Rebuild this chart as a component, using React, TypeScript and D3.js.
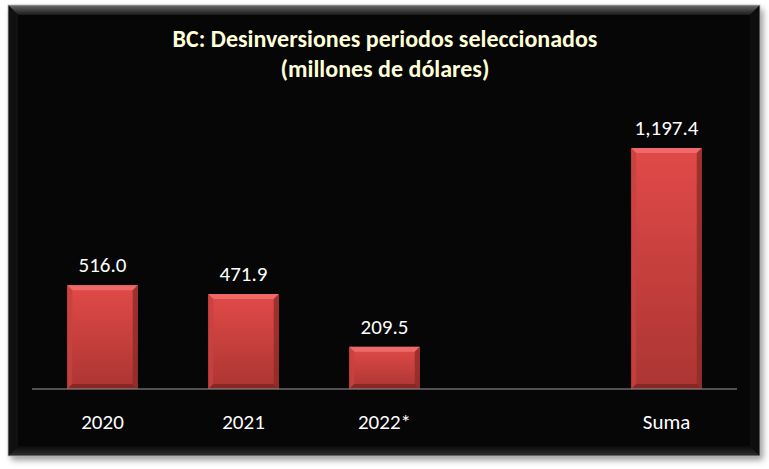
import React from "react";
import * as d3 from "d3";

const categories = ["2020", "2021", "2022*", "", "Suma"];
const values: (number | null)[] = [516.0, 471.9, 209.5, null, 1197.4];
const labels = ["516.0", "471.9", "209.5", "", "1,197.4"];
const titleLines = ["BC: Desinversiones periodos seleccionados", "(millones de dólares)"];

const W = 769;
const H = 469;
const panel = { x: 8, y: 5, w: 752, h: 451 };
const plot = { left: 32, right: 737, bottom: 389 };
const font = "Calibri, Carlito, 'Liberation Sans', sans-serif";

export default function App() {
  const x = d3
    .scaleBand<string>()
    .domain(categories.map((c, i) => i + ""))
    .range([plot.left, plot.right])
    .paddingInner(0.5)
    .paddingOuter(0.25);
  const y = d3.scaleLinear().domain([0, 1400]).range([plot.bottom, plot.bottom - 1400 * 0.2013]);
  const bw = x.bandwidth();
  const b = 5;

  return (
    <svg width={W} height={H} style={{ position: "absolute", left: 0, top: 0, background: "#fff" }}>
      <defs>
        <linearGradient id="barg" x1="0" y1="0" x2="0" y2="1">
          <stop offset="0" stopColor="#e14a48" />
          <stop offset="1" stopColor="#ab3533" />
        </linearGradient>
        <linearGradient id="topEdge" x1="0" y1="0" x2="0" y2="1">
          <stop offset="0" stopColor="#6a6a6a" />
          <stop offset="1" stopColor="#1a1a1a" />
        </linearGradient>
        <linearGradient id="botEdge" x1="0" y1="0" x2="0" y2="1">
          <stop offset="0" stopColor="#0a0a0a" />
          <stop offset="1" stopColor="#2e2e2e" />
        </linearGradient>
        <filter id="shadow" x="-5%" y="-5%" width="110%" height="110%">
          <feGaussianBlur stdDeviation="3" />
        </filter>
      </defs>
      {/* panel shadow */}
      <rect x={panel.x + 3} y={panel.y + 4} width={panel.w} height={panel.h} fill="#999" filter="url(#shadow)" />
      <rect x={panel.x} y={panel.y} width={panel.w} height={panel.h} fill="#060606" />
      {/* panel bevel */}
      <polygon
        points={`${panel.x},${panel.y} ${panel.x + panel.w},${panel.y} ${panel.x + panel.w - 10},${panel.y + 10} ${panel.x + 10},${panel.y + 10}`}
        fill="url(#topEdge)"
      />
      <polygon
        points={`${panel.x},${panel.y + panel.h} ${panel.x + panel.w},${panel.y + panel.h} ${panel.x + panel.w - 10},${panel.y + panel.h - 10} ${panel.x + 10},${panel.y + panel.h - 10}`}
        fill="url(#botEdge)"
      />
      <polygon
        points={`${panel.x},${panel.y} ${panel.x + 10},${panel.y + 10} ${panel.x + 10},${panel.y + panel.h - 10} ${panel.x},${panel.y + panel.h}`}
        fill="#111"
      />
      <polygon
        points={`${panel.x + panel.w},${panel.y} ${panel.x + panel.w - 10},${panel.y + 10} ${panel.x + panel.w - 10},${panel.y + panel.h - 10} ${panel.x + panel.w},${panel.y + panel.h}`}
        fill="#0e0e0e"
      />
      <rect x={panel.x + 10} y={panel.y + 10} width={panel.w - 20} height={panel.h - 20} fill="#060606" />
      <rect x={panel.x} y={panel.y} width={panel.w} height={panel.h} fill="none" stroke="#bbb" strokeWidth={0.8} />

      {/* title */}
      {titleLines.map((t, i) => (
        <text
          key={i}
          x={385}
          y={47 + i * 30}
          textAnchor="middle"
          fill="#ffffd8"
          fontFamily={font}
          fontWeight="bold"
          fontSize={24}
        >
          {t}
        </text>
      ))}

      {/* bars */}
      {values.map((v, i) => {
        if (v == null) return null;
        const x0 = x(i + "")!;
        const y0 = y(v);
        const y1 = y(0);
        const x1 = x0 + bw;
        return (
          <g key={i}>
            <rect x={x0} y={y0} width={bw} height={y1 - y0} fill="url(#barg)" />
            <polygon points={`${x0},${y0} ${x1},${y0} ${x1 - b},${y0 + b} ${x0 + b},${y0 + b}`} fill="#f07070" opacity={0.85} />
            <polygon points={`${x0},${y0} ${x0 + b},${y0 + b} ${x0 + b},${y1 - b} ${x0},${y1}`} fill="#c84140" opacity={0.8} />
            <polygon points={`${x1},${y0} ${x1 - b},${y0 + b} ${x1 - b},${y1 - b} ${x1},${y1}`} fill="#8e2a28" opacity={0.8} />
            <polygon points={`${x0},${y1} ${x0 + b},${y1 - b} ${x1 - b},${y1 - b} ${x1},${y1}`} fill="#7e2422" opacity={0.8} />
            <text
              x={x0 + bw / 2}
              y={y0 - 13}
              textAnchor="middle"
              fill="#fff"
              fontFamily={font}
              fontSize={21}
            >
              {labels[i]}
            </text>
          </g>
        );
      })}

      {/* axis */}
      <line x1={plot.left} x2={plot.right} y1={plot.bottom} y2={plot.bottom} stroke="#9a9a9a" strokeWidth={1.2} />
      {categories.map((c, i) => (
        <text
          key={i}
          x={x(i + "")! + bw / 2}
          y={429}
          textAnchor="middle"
          fill="#fff"
          fontFamily={font}
          fontSize={21}
        >
          {c}
        </text>
      ))}
    </svg>
  );
}
